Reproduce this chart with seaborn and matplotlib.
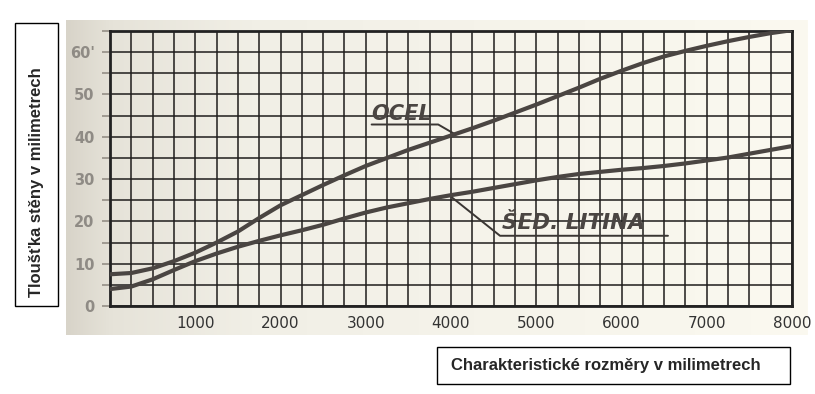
import numpy as np
import pandas as pd
import matplotlib
matplotlib.use('Agg')
import matplotlib.pyplot as plt
import seaborn as sns
from matplotlib.patches import Rectangle
from matplotlib.colors import LinearSegmentedColormap

# values (every 250 mm)
rozmer = [0, 250, 500, 750, 1000, 1250, 1500, 1750, 2000, 2250, 2500, 2750,
          3000, 3250, 3500, 3750, 4000, 4250, 4500, 4750, 5000, 5250, 5500,
          5750, 6000, 6250, 6500, 6750, 7000, 7250, 7500, 7750, 8000]
ocel = [7.5, 7.8, 8.9, 10.6, 12.6, 15.0, 17.6, 20.8, 23.8, 26.2, 28.6, 30.9,
        33.1, 35.0, 36.9, 38.6, 40.3, 42.0, 43.8, 45.7, 47.6, 49.6, 51.6,
        53.7, 55.6, 57.4, 59.0, 60.3, 61.5, 62.6, 63.6, 64.5, 65.2]
litina = [4.0, 4.6, 6.3, 8.5, 10.6, 12.4, 14.0, 15.4, 16.7, 17.9, 19.2, 20.7,
          22.1, 23.3, 24.3, 25.3, 26.2, 27.0, 27.9, 28.8, 29.7, 30.5, 31.2,
          31.7, 32.2, 32.6, 33.1, 33.7, 34.4, 35.1, 36.0, 36.9, 37.8]
x_ticks = [1000, 2000, 3000, 4000, 5000, 6000, 7000, 8000]
x_labels = ['1000', '2000', '3000', '4000', '5000', '6000', '7000', '8000']
y_ticks = [0, 10, 20, 30, 40, 50, 60]
y_labels = ['0', '10', '20', '30', '40', '50', "60'"]

n = len(rozmer)
df = pd.DataFrame({
    'rozmer': rozmer * 2,
    'tloustka': ocel + litina,
    'material': ['OCEL'] * n + ['ŠED. LITINA'] * n,
})

sns.set_style('white')
plt.rcParams['font.family'] = ['DejaVu Sans']

W, H = 815, 394
fig = plt.figure(figsize=(W / 100, H / 100), dpi=100)
fig.patch.set_facecolor('white')

# scanned paper background
bg = fig.add_axes([66 / W, 1 - 335 / H, (808 - 66) / W, (335 - 20) / H])
paper = LinearSegmentedColormap.from_list(
    'paper', [(0, '#d8d4c9'), (0.06, '#e6e3d9'), (0.25, '#f1efe6'), (1, '#fbf9f0')])
bg.imshow(np.linspace(0, 1, 256).reshape(1, -1), aspect='auto', cmap=paper)
bg.axis('off')

ax = fig.add_axes([110 / W, 1 - 306 / H, 682 / W, 275 / H])
ax.set_facecolor('none')

sns.lineplot(data=df, x='rozmer', y='tloustka', hue='material',
             palette=['#4a4542', '#4a4542'], lw=3.0, legend=False, ax=ax, zorder=3)

ax.set_xlim(0, 8000)
ax.set_ylim(0, 65)
ax.set_xticks(x_ticks)
ax.set_xticklabels(x_labels)
ax.set_yticks(y_ticks)
ax.set_yticklabels(y_labels)
ax.set_xticks(np.arange(0, 8001, 250), minor=True)
ax.set_yticks(np.arange(0, 66, 5), minor=True)
ax.grid(which='both', color='#1f1d1c', lw=1.1)
ax.set_axisbelow(True)
ax.set_xlabel('')
ax.set_ylabel('')

ax.tick_params(axis='x', which='major', length=4, width=1.2, color='#222222',
               pad=3, labelsize=11, labelcolor='#333333')
ax.tick_params(axis='x', which='minor', length=0)
ax.tick_params(axis='y', which='both', left=True, length=6, width=1.4, color='#a09b92',
               pad=5, labelsize=10.5, labelcolor='#8f8b85')
for lab in ax.get_yticklabels():
    lab.set_fontweight('bold')
for s in ax.spines.values():
    s.set_visible(True)
    s.set_linewidth(2)
    s.set_color('#222222')

# curve labels with underline and leader line
ax.text(3069, 44.0, 'OCEL', fontsize=15, fontstyle='italic', fontweight='bold',
        color='#4a4542', ha='left', va='baseline')
ax.plot([3069, 3850, 4047], [42.9, 42.9, 40.6], color='#3a3633', lw=1.4)
ax.text(4595, 18.2, 'ŠED. LITINA', fontsize=15.5, fontstyle='italic', fontweight='bold',
        color='#4a4542', ha='left', va='baseline')
ax.plot([3990, 4575, 6545], [26.0, 16.6, 16.6], color='#3a3633', lw=1.4)

# axis title boxes
fig.add_artist(Rectangle((15 / W, 1 - 306 / H), 43 / W, 283 / H, transform=fig.transFigure,
                         fill=False, ec='black', lw=1))
fig.text(37 / W, 1 - 182 / H, 'Tloušťka stěny v milimetrech', rotation=90,
         ha='center', va='center', fontsize=12, fontweight='bold', family='Liberation Sans')
fig.add_artist(Rectangle((437 / W, 1 - 384 / H), 353 / W, 37 / H, transform=fig.transFigure,
                         fill=False, ec='black', lw=1))
fig.text(451 / W, 1 - 365.5 / H, 'Charakteristické rozměry v milimetrech',
         ha='left', va='center', fontsize=12, fontweight='bold', family='Liberation Sans')

fig.savefig('out.png', dpi=100)
